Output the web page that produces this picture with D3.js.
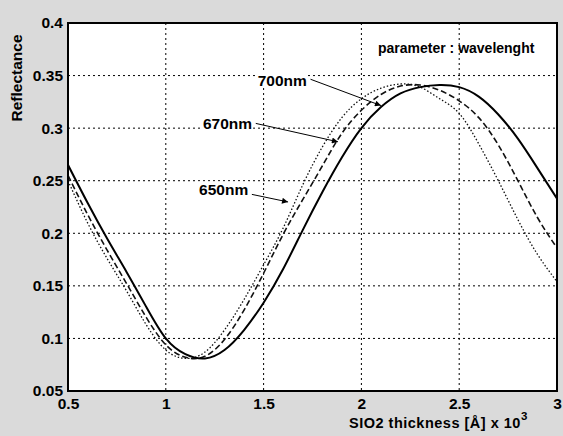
<!DOCTYPE html>
<html><head><meta charset="utf-8">
<script src="https://cdn.jsdelivr.net/npm/d3@7"></script>
<style>
html,body{margin:0;padding:0;background:#dadada;}
svg{display:block;}
text{font-family:"Liberation Sans",Arial,sans-serif;}
</style></head>
<body>
<svg id="chart" width="563" height="436"></svg>
<script>
// ---- data ----
const thickness = [0.5,0.6,0.7,0.8,0.9,1.0,1.1,1.2,1.3,1.4,1.5,1.6,1.7,1.8,1.9,2.0,2.1,2.2,2.3,2.4,2.5,2.6,2.7,2.8,2.9,3.0];
const r700 = [0.265,0.229,0.195,0.163,0.130,0.100,0.085,0.081,0.089,0.108,0.134,0.166,0.203,0.239,0.272,0.300,0.320,0.333,0.339,0.341,0.339,0.330,0.313,0.290,0.262,0.233];
const r670 = [0.255,0.218,0.184,0.152,0.120,0.094,0.082,0.083,0.099,0.127,0.162,0.199,0.232,0.264,0.295,0.317,0.332,0.340,0.341,0.336,0.326,0.310,0.284,0.250,0.215,0.186];
const r650 = [0.250,0.210,0.176,0.145,0.113,0.089,0.081,0.087,0.108,0.137,0.170,0.205,0.246,0.282,0.310,0.328,0.338,0.342,0.339,0.328,0.314,0.285,0.250,0.213,0.180,0.154];
const xTicks = [0.5,1,1.5,2,2.5,3];
const xTickLabels = ["0.5","1","1.5","2","2.5","3"];
const yTicks = [0.05,0.1,0.15,0.2,0.25,0.3,0.35,0.4];
const yTickLabels = ["0.05","0.1","0.15","0.2","0.25","0.3","0.35","0.4"];
// annotations: label text, label anchor (data coords), arrow start and tip (data coords)
const annLabels = ["700nm","670nm","650nm"];
const annTextX = [1.47,1.19,1.17];
const annTextY = [0.3455,0.3040,0.2420];
const annFromX = [1.74,1.46,1.44];
const annFromY = [0.3465,0.3045,0.2370];
const annToX = [2.1,1.88,1.625];
const annToY = [0.3215,0.2870,0.2298];

// ---- layout ----
const L=68, R=557, T=23, B=391;
const svg = d3.select("#chart");
const x = d3.scaleLinear().domain([0.5,3]).range([L,R]);
const y = d3.scaleLinear().domain([0.05,0.4]).range([B,T]);

svg.append("rect").attr("x",0).attr("y",0).attr("width",563).attr("height",436).attr("fill","#dadada");
svg.append("rect").attr("x",L).attr("y",T).attr("width",R-L).attr("height",B-T).attr("fill","#fff");

// grid
const g = svg.append("g");
g.selectAll(".vg").data(xTicks.slice(1,-1)).join("line")
  .attr("x1",d=>x(d)).attr("x2",d=>x(d)).attr("y1",T).attr("y2",B)
  .attr("stroke","#000").attr("stroke-width",1).attr("stroke-dasharray","2,3");
g.selectAll(".hg").data(yTicks.slice(1,-1)).join("line")
  .attr("x1",L).attr("x2",R).attr("y1",d=>y(d)).attr("y2",d=>y(d))
  .attr("stroke","#000").attr("stroke-width",1).attr("stroke-dasharray","2,3");

// axes (labels via d3 axes)
const xAxis = d3.axisBottom(x).tickValues(xTicks).tickFormat((d,i)=>xTickLabels[i]).tickSize(0).tickPadding(7);
const yAxis = d3.axisLeft(y).tickValues(yTicks).tickFormat((d,i)=>yTickLabels[i]).tickSize(0).tickPadding(5);
const gx = svg.append("g").attr("transform",`translate(0,${B})`).call(xAxis);
const gy = svg.append("g").attr("transform",`translate(${L},0)`).call(yAxis);
[gx,gy].forEach(a=>{a.select(".domain").remove();
  a.selectAll("text").attr("font-family","'Liberation Sans',Arial,sans-serif").attr("font-size",15.5).attr("font-weight","bold").attr("fill","#000");});

// curves
const pts = arr => thickness.map((t,i)=>[t,arr[i]]);
const line = d3.line().x(d=>x(d[0])).y(d=>y(d[1])).curve(d3.curveNatural);
svg.append("clipPath").attr("id","clp").append("rect").attr("x",L).attr("y",T).attr("width",R-L).attr("height",B-T);
const cg = svg.append("g").attr("clip-path","url(#clp)");
cg.append("path").attr("d",line(pts(r650))).attr("fill","none").attr("stroke","#111").attr("stroke-width",1.3).attr("stroke-dasharray","1.5,2");
cg.append("path").attr("d",line(pts(r670))).attr("fill","none").attr("stroke","#111").attr("stroke-width",1.6).attr("stroke-dasharray","6,3");
cg.append("path").attr("d",line(pts(r700))).attr("fill","none").attr("stroke","#000").attr("stroke-width",2);

// annotations
svg.append("defs").append("marker").attr("id","arr").attr("viewBox","0 0 10 10").attr("refX",10).attr("refY",5)
  .attr("markerWidth",9).attr("markerHeight",6).attr("orient","auto").attr("markerUnits","userSpaceOnUse")
  .append("path").attr("d","M0,0 L10,5 L0,10 z").attr("fill","#000");
const ag = svg.append("g");
annLabels.forEach((lab,i)=>{
  const bgRect = ag.append("rect").attr("fill","#fff");
  const t = ag.append("text").attr("x",x(annTextX[i])).attr("y",y(annTextY[i])).attr("dy","0.35em")
    .attr("font-size",15.5).attr("font-weight","bold").attr("fill","#000").text(lab);
  const bb = t.node().getBBox();
  bgRect.attr("x",bb.x-1).attr("y",bb.y+1).attr("width",bb.width+2).attr("height",bb.height-2);
  ag.append("line").attr("x1",x(annFromX[i])).attr("y1",y(annFromY[i])).attr("x2",x(annToX[i])).attr("y2",y(annToY[i]))
    .attr("stroke","#000").attr("stroke-width",1).attr("marker-end","url(#arr)");
});

// parameter text
svg.append("text").attr("x",378).attr("y",53).attr("font-size",14).attr("font-weight","bold").attr("fill","#000")
  .text("parameter : wavelenght");

// frame
svg.append("rect").attr("x",L).attr("y",T).attr("width",R-L).attr("height",B-T).attr("fill","none").attr("stroke","#000").attr("stroke-width",2);

// axis titles
const xt = svg.append("text").attr("x",349).attr("y",428).attr("font-size",14.5).attr("letter-spacing",0.5)
  .attr("font-weight","bold").attr("fill","#000");
xt.append("tspan").text("SIO2 thickness [Å]  x 10");
xt.append("tspan").attr("dy",-8).attr("font-size",11.5).text("3");
svg.append("text").attr("transform","translate(22,78) rotate(-90)").attr("text-anchor","middle")
  .attr("font-size",15.5).attr("font-weight","bold").attr("fill","#000").text("Reflectance");
</script>
</body></html>
